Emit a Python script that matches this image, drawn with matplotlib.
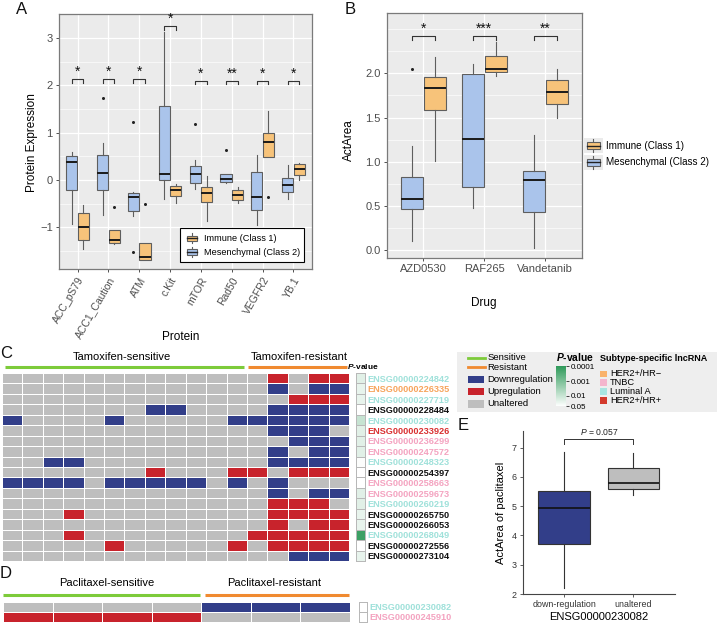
import numpy as np
import matplotlib
matplotlib.use("Agg")
import matplotlib.pyplot as plt
from matplotlib.colors import ListedColormap, LogNorm, LinearSegmentedColormap
from matplotlib.patches import Rectangle
from matplotlib.lines import Line2D
from matplotlib.legend_handler import HandlerBase
from matplotlib.ticker import MultipleLocator
import matplotlib.cm as cm

plt.rcParams['font.family'] = ['Liberation Sans', 'DejaVu Sans']
plt.rcParams['mathtext.fontset'] = 'custom'
plt.rcParams['mathtext.it'] = 'Liberation Sans:italic'
plt.rcParams['mathtext.rm'] = 'Liberation Sans'
plt.rcParams['mathtext.bf'] = 'Liberation Sans:italic:bold'

# ---------------- Panel A data (box statistics) ----------------
proteins = ['ACC_pS79', 'ACC1_Caution', 'ATM', 'c.Kit', 'mTOR', 'Rad50', 'VEGFR2', 'YB.1']
imm_whislo = [-1.45, -1.35, -1.68, -0.48, -0.87, -0.48, 0.49, 0.00]
imm_q1     = [-1.27, -1.32, -1.68, -0.34, -0.47, -0.42, 0.49, 0.11]
imm_med    = [-0.99, -1.26, -1.63, -0.21, -0.27, -0.32, 0.81, 0.23]
imm_q3     = [-0.70, -1.06, -1.32, -0.13, -0.15, -0.22, 0.99, 0.33]
imm_whishi = [-0.53, -1.06, -1.32, -0.08, 0.08, -0.14, 1.46, 0.37]
imm_fliers = [[], [-0.57], [-0.51], [], [], [], [-0.35], []]
mes_whislo = [-0.92, -0.73, -0.77, -0.39, -0.18, -0.07, -0.94, -0.39]
mes_q1     = [-0.20, -0.21, -0.65, 0.00, -0.06, -0.05, -0.64, -0.25]
mes_med    = [0.39, 0.15, -0.35, 0.13, 0.12, 0.02, -0.36, -0.10]
mes_q3     = [0.51, 0.52, -0.27, 1.56, 0.29, 0.12, 0.18, 0.04]
mes_whishi = [0.59, 0.78, -0.25, 3.12, 0.42, 0.13, 0.52, 0.32]
mes_fliers = [[], [1.73], [1.22, -1.52], [], [1.19], [0.64], [], []]
sigA = ['*', '*', '*', '*', '*', '**', '*', '*']
sigA_low = [2.05, 2.05, 2.05, 3.17, 2.02, 2.02, 2.02, 2.02]
sigA_top = [2.14, 2.14, 2.14, 3.26, 2.10, 2.10, 2.10, 2.10]

# ---------------- Panel B data ----------------
drugs = ['AZD0530', 'RAF265', 'Vandetanib']
immB_whislo = [1.01, 1.97, 1.50]
immB_q1     = [1.59, 2.01, 1.65]
immB_med    = [1.83, 2.05, 1.79]
immB_q3     = [1.96, 2.20, 1.92]
immB_whishi = [2.18, 2.35, 2.05]
immB_fliers = [[], [], []]
mesB_whislo = [0.10, 0.48, 0.03]
mesB_q1     = [0.47, 0.72, 0.43]
mesB_med    = [0.58, 1.26, 0.80]
mesB_q3     = [0.83, 1.99, 0.90]
mesB_whishi = [1.18, 2.10, 1.30]
mesB_fliers = [[2.05], [], []]
sigB = ['*', '***', '**']
sigB_low = [2.38, 2.38, 2.38]
sigB_top = [2.42, 2.42, 2.42]

# ---------------- Panel C data ----------------
C_genes = ['ENSG00000224842', 'ENSG00000226335', 'ENSG00000227719', 'ENSG00000228484',
           'ENSG00000230082', 'ENSG00000233926', 'ENSG00000236299', 'ENSG00000247572',
           'ENSG00000248323', 'ENSG00000254397', 'ENSG00000258663', 'ENSG00000259673',
           'ENSG00000260219', 'ENSG00000265750', 'ENSG00000266053', 'ENSG00000268049',
           'ENSG00000272556', 'ENSG00000273104']
C_subtype = ['LumA', 'HER2-', 'LumA', 'none', 'LumA', 'HER2+', 'TNBC', 'TNBC', 'LumA',
             'none', 'TNBC', 'TNBC', 'LumA', 'none', 'none', 'LumA', 'none', 'none']
# G = unaltered, B = downregulation, R = upregulation ; 12 sensitive + 5 resistant lines
C_status = ['GGGGGGGGGGGGGRGRR',
            'GGGGGGGGGGGGGBGBB',
            'GGGGGGGGGGGGGGRRR',
            'GGGGGGGBBGGGGBBBB',
            'BGGGGBGGGGGBBBBBB',
            'GGGGGGGGGGGGGBBBG',
            'GGGGGGGGGGGGGGBBB',
            'GGGGGGGGGGGGGBGBB',
            'GGBBGGGGGGGGGBBBB',
            'GGGGGGGRGGGRRGRRR',
            'BBBBGBBBBBGBGBGGG',
            'GGGGGGGGGGGGGBGBB',
            'GGGGGGGGGGGGGRRRG',
            'GGGRGGGGGGGGGRRRR',
            'GGGGGGGGGGGGGRGRR',
            'GGGRGGGGGGGGRRRRR',
            'GGGGGRGGGGGRGRRRR',
            'GGGGGGGGGGGGGGBBB']
C_pvalue = [0.02, 0.025, 0.025, 0.05, 0.009, 0.02, 0.02, 0.02, 0.045,
            0.05, 0.05, 0.02, 0.02, 0.025, 0.025, 0.00015, 0.05, 0.025]

# ---------------- Panel D data ----------------
D_genes = ['ENSG00000230082', 'ENSG00000245910']
D_subtype = ['LumA', 'TNBC']
D_status = ['GGGGBBB', 'RRRRGGG']
D_pvalue = [0.05, 0.05]

# ---------------- Panel E data ----------------
E_groups = ['down-regulation', 'unaltered']
E_whislo = [2.20, 5.40]
E_q1     = [3.72, 5.59]
E_med    = [4.93, 5.81]
E_q3     = [5.53, 6.31]
E_whishi = [6.86, 6.81]

# ---------------- styling ----------------
W, H = 719, 623
c_imm = '#F7C37A'
c_mes = '#AAC4EB'
box_edge = '#5E5E5E'
c_gray = '#BEBEBE'
c_blue = '#323E89'
c_red = '#C8232C'
c_green_line = '#7DCB3A'
c_orange_line = '#F08A30'
subtype_colors = {'LumA': '#9FE1DA', 'HER2-': '#F7A45C', 'TNBC': '#F4A3C0',
                  'HER2+': '#D93030', 'none': '#111111'}
pcmap = LinearSegmentedColormap.from_list('pv', ['#2F9A5A', '#FFFFFF'])
pnorm = LogNorm(vmin=1e-4, vmax=0.05)

fig = plt.figure(figsize=(W / 100, H / 100), dpi=100)


def rect(x0, y0, x1, y1):
    return [x0 / W, 1 - y1 / H, (x1 - x0) / W, (y1 - y0) / H]


overlay = fig.add_axes([0, 0, 1, 1])
overlay.set_xlim(0, W)
overlay.set_ylim(H, 0)
overlay.axis('off')


def make_stats(wl, q1, md, q3, wh, fl):
    return [dict(whislo=a, q1=b, med=c, q3=d, whishi=e, fliers=f)
            for a, b, c, d, e, f in zip(wl, q1, md, q3, wh, fl)]


def style_gg(ax, minor):
    ax.set_facecolor('#EBEBEB')
    for s in ax.spines.values():
        s.set_color('#7A7A7A')
        s.set_linewidth(0.9)
    ax.yaxis.set_minor_locator(MultipleLocator(minor))
    ax.grid(True, which='major', axis='both', color='white', lw=0.9)
    ax.grid(True, which='minor', axis='y', color='white', lw=0.45)
    ax.set_axisbelow(True)
    ax.tick_params(which='major', labelcolor='#4D4D4D', labelsize=8, length=2.5,
                   width=0.6, color='#333333', pad=2)
    ax.tick_params(which='minor', length=0)


def draw_boxes(ax, stats, positions, color, width):
    ax.bxp(stats, positions=positions, widths=width, patch_artist=True, showcaps=False,
           boxprops=dict(facecolor=color, edgecolor=box_edge, linewidth=0.8),
           medianprops=dict(color='#1A1A1A', linewidth=1.4),
           whiskerprops=dict(color=box_edge, linewidth=0.8),
           flierprops=dict(marker='o', markersize=2.2, markerfacecolor='#222222',
                           markeredgecolor='none'),
           manage_ticks=False)


class BoxKey(HandlerBase):
    def __init__(self, bg=None):
        super().__init__()
        self.bg = bg

    def create_artists(self, legend, orig_handle, xdescent, ydescent, width, height,
                       fontsize, trans):
        x0, y0 = -xdescent, -ydescent
        arts = []
        if self.bg:
            arts.append(Rectangle((x0, y0), width, height, facecolor=self.bg,
                                  edgecolor='none', transform=trans))
        cx = x0 + width / 2
        arts.append(Line2D([cx, cx], [y0 + height * 0.05, y0 + height * 0.95],
                           color=box_edge, lw=0.8, transform=trans))
        arts.append(Rectangle((x0 + width * 0.15, y0 + height * 0.25), width * 0.7,
                              height * 0.5, facecolor=orig_handle.get_facecolor(),
                              edgecolor=box_edge, lw=0.8, transform=trans))
        arts.append(Line2D([x0 + width * 0.15, x0 + width * 0.85], [y0 + height / 2] * 2,
                           color='#222222', lw=1.0, transform=trans))
        return arts


def brackets(ax, pos, low, top, sig, half, fs):
    for p, lo, tp, s in zip(pos, low, top, sig):
        ax.plot([p - half, p - half, p + half, p + half], [lo, tp, tp, lo],
                color='#333333', lw=0.8, clip_on=False)
        ax.text(p, tp, s, ha='center', va='bottom', fontsize=fs, color='#111111')


# ---------------- Panel A ----------------
axA = fig.add_axes(rect(59, 14, 312, 269))
style_gg(axA, 0.5)
posA = np.arange(1, len(proteins) + 1)
draw_boxes(axA, make_stats(mes_whislo, mes_q1, mes_med, mes_q3, mes_whishi, mes_fliers),
           posA - 0.1875, c_mes, 0.36)
draw_boxes(axA, make_stats(imm_whislo, imm_q1, imm_med, imm_q3, imm_whishi, imm_fliers),
           posA + 0.1875, c_imm, 0.36)
brackets(axA, posA, sigA_low, sigA_top, sigA, 0.19, 10)
axA.set_xlim(0.4, len(proteins) + 0.6)
axA.set_ylim(-1.88, 3.51)
axA.set_yticks([-1, 0, 1, 2, 3])
axA.set_xticks(posA)
axA.set_xticklabels(proteins, rotation=60, ha='right', va='top', rotation_mode='anchor',
                    fontsize=7.5)
axA.set_ylabel('Protein Expression', fontsize=8.5)
axA.yaxis.set_label_coords(-0.083, 0.494)
axA.set_xlabel('Protein', fontsize=8.5)
axA.xaxis.set_label_coords(0.48, -0.243)
hA = [Rectangle((0, 0), 1, 1, facecolor=c_imm), Rectangle((0, 0), 1, 1, facecolor=c_mes)]
legA = axA.legend(hA, ['Immune (Class 1)', 'Mesenchymal (Class 2)'], loc='lower right',
                  bbox_to_anchor=(309 / W, 1 - 267 / H), bbox_transform=fig.transFigure,
                  handler_map={Rectangle: BoxKey()}, fontsize=6.6, frameon=True,
                  fancybox=False, edgecolor='black', framealpha=1, borderpad=0.5,
                  handlelength=1.6, handleheight=1.5, labelspacing=0.3, handletextpad=0.5)
legA.get_frame().set_linewidth(0.8)

# ---------------- Panel B ----------------
axB = fig.add_axes(rect(386.7, 12.7, 581.7, 258))
style_gg(axB, 0.25)
posB = np.arange(1, len(drugs) + 1)
draw_boxes(axB, make_stats(mesB_whislo, mesB_q1, mesB_med, mesB_q3, mesB_whishi, mesB_fliers),
           posB - 0.1875, c_mes, 0.36)
draw_boxes(axB, make_stats(immB_whislo, immB_q1, immB_med, immB_q3, immB_whishi, immB_fliers),
           posB + 0.1875, c_imm, 0.36)
brackets(axB, posB, sigB_low, sigB_top, sigB, 0.19, 10)
axB.set_xlim(0.4, len(drugs) + 0.6)
axB.set_ylim(-0.087, 2.685)
axB.set_yticks([0.0, 0.5, 1.0, 1.5, 2.0])
axB.set_yticklabels(['0.0', '0.5', '1.0', '1.5', '2.0'])
axB.set_xticks(posB)
axB.set_xticklabels(drugs, fontsize=8)
axB.set_ylabel('ActArea', fontsize=8.5)
axB.yaxis.set_label_coords(-0.163, 0.48)
axB.set_xlabel('Drug', fontsize=8.5)
axB.xaxis.set_label_coords(0.5, -0.159)
hB = [Rectangle((0, 0), 1, 1, facecolor=c_imm), Rectangle((0, 0), 1, 1, facecolor=c_mes)]
axB.legend(hB, ['Immune (Class 1)', 'Mesenchymal (Class 2)'], loc='center left',
           bbox_to_anchor=(584 / W, 1 - 154 / H), bbox_transform=fig.transFigure,
           handler_map={Rectangle: BoxKey(bg='#EBEBEB')}, fontsize=7.1, frameon=False,
           handlelength=1.9, handleheight=1.9, labelspacing=0.2, handletextpad=0.35,
           borderpad=0.0, borderaxespad=0.0)


# ---------------- Heatmaps C & D ----------------
def heat(status, pvals, genes, subtypes, hrect, prect):
    codes = np.array([['GBR'.index(ch) for ch in row] for row in status])
    ax = fig.add_axes(rect(*hrect))
    ax.pcolormesh(codes, cmap=ListedColormap([c_gray, c_blue, c_red]), vmin=-0.5, vmax=2.5,
                  edgecolors='white', linewidth=0.7)
    ax.set_xlim(0, codes.shape[1])
    ax.set_ylim(codes.shape[0], 0)
    ax.axis('off')
    axp = fig.add_axes(rect(*prect))
    mesh = axp.pcolormesh(np.array(pvals)[:, None], cmap=pcmap, norm=pnorm,
                          edgecolors='#B8B8B8', linewidth=0.5)
    mesh.set_clip_on(False)
    axp.set_ylim(len(pvals), 0)
    axp.set_xlim(0, 1)
    axp.set_xticks([])
    axp.set_yticks(np.arange(len(genes)) + 0.5)
    axp.set_yticklabels(genes, fontsize=6.6, fontweight='bold')
    axp.yaxis.tick_right()
    axp.tick_params(axis='y', length=0, pad=1.5)
    for lbl, st in zip(axp.get_yticklabels(), subtypes):
        lbl.set_color(subtype_colors[st])
    for s in axp.spines.values():
        s.set_visible(False)
    axp.patch.set_visible(False)
    return ax, axp


heat(C_status, C_pvalue, C_genes, C_subtype, (2, 373, 349, 561), (355.7, 373, 365, 561))
heat(D_status, D_pvalue, D_genes, D_subtype, (3, 602, 350, 621.5), (358.6, 602, 367, 621.5))

# annotations (overlay, pixel coordinates)
ov = overlay
for letter, x, y in [('A', 22, 9), ('B', 350, 9), ('C', 6, 353), ('D', 6, 573), ('E', 463, 426)]:
    ov.text(x, y, letter, fontsize=12, ha='center', va='center', color='#111111')
ov.text(121.7, 357.3, 'Tamoxifen-sensitive', fontsize=8, ha='center', va='center')
ov.text(299, 357.3, 'Tamoxifen-resistant', fontsize=8, ha='center', va='center')
ov.plot([5, 244], [367, 367], color=c_green_line, lw=2.2, solid_capstyle='butt')
ov.plot([248, 347], [367, 367], color=c_orange_line, lw=2.2, solid_capstyle='butt')
ov.text(347.3, 366.5, r'$\mathbf{P}$-value', fontsize=6, fontweight='bold', ha='left',
        va='center')
ov.text(107, 583.4, 'Paclitaxel-sensitive', fontsize=8, ha='center', va='center')
ov.text(274.5, 583.4, 'Paclitaxel-resistant', fontsize=8, ha='center', va='center')
ov.plot([3, 200], [594.5, 594.5], color=c_green_line, lw=2.2, solid_capstyle='butt')
ov.plot([204.5, 349], [594.5, 594.5], color=c_orange_line, lw=2.2, solid_capstyle='butt')

# legend box for C
ov.add_patch(Rectangle((457, 351.7), 260, 60, facecolor='#EEEEEE', edgecolor='none'))
ov.plot([468, 485], [358, 358], color=c_green_line, lw=2)
ov.plot([468, 485], [367.3, 367.3], color=c_orange_line, lw=2)
ov.text(487.7, 358, 'Sensitive', fontsize=6.8, va='center')
ov.text(487.7, 367.3, 'Resistant', fontsize=6.8, va='center')
for yc, col, lab in [(379.6, c_blue, 'Downregulation'), (391.6, c_red, 'Upregulation'),
                     (404.0, c_gray, 'Unaltered')]:
    ov.add_patch(Rectangle((467.7, yc - 3.7), 16.6, 7.4, facecolor=col, edgecolor='none'))
    ov.text(487.7, yc, lab, fontsize=6.8, va='center')
ov.text(556.5, 357.3, r'$\mathbf{P}$-value', fontsize=7.4, fontweight='bold', va='center')
ov.text(600, 358.3, 'Subtype-specific lncRNA', fontsize=6.5, fontweight='bold', va='center')
for yc, key, lab in [(374, 'HER2-', 'HER2+/HR\u2212'), (382.6, 'TNBC', 'TNBC'),
                     (391.4, 'LumA', 'Luminal A'), (400.3, 'HER2+', 'HER2+/HR+')]:
    colsq = {'HER2-': '#F9B26B', 'TNBC': '#F4B5CD', 'LumA': '#A8E4E0', 'HER2+': '#D33A2C'}[key]
    ov.add_patch(Rectangle((600, yc - 3.4), 6.8, 6.8, facecolor=colsq, edgecolor='none'))
    ov.text(610, yc, lab, fontsize=6.7, va='center')

cax = fig.add_axes(rect(556, 366.3, 566, 406.3))
sm = cm.ScalarMappable(norm=pnorm, cmap=pcmap)
cb = fig.colorbar(sm, cax=cax)
cb.set_ticks([1e-4, 1e-3, 1e-2, 0.05])
cb.set_ticklabels(['0.0001', '0.001', '0.01', '0.05'])
cb.minorticks_off()
cax.invert_yaxis()
cb.outline.set_visible(False)
cax.tick_params(labelsize=5.8, length=2.2, width=0.5, pad=1)

# ---------------- Panel E ----------------
axE = fig.add_axes(rect(522.7, 431, 675, 594))
posE = np.arange(1, len(E_groups) + 1)
bpE = axE.bxp(make_stats(E_whislo, E_q1, E_med, E_q3, E_whishi, [[], []]), positions=posE,
              widths=0.75, patch_artist=True, showcaps=False,
              boxprops=dict(edgecolor='#333333', linewidth=0.8),
              medianprops=dict(color='#111111', linewidth=1.2),
              whiskerprops=dict(color='#333333', linewidth=0.8), manage_ticks=False)
for b, col in zip(bpE['boxes'], [c_blue, c_gray]):
    b.set_facecolor(col)
axE.set_xlim(0.4, 2.6)
axE.set_ylim(2.0, 7.57)
axE.set_yticks([2, 3, 4, 5, 6, 7])
axE.set_xticks(posE)
axE.set_xticklabels(E_groups)
axE.spines['top'].set_visible(False)
axE.spines['right'].set_visible(False)
for s in ['left', 'bottom']:
    axE.spines[s].set_color('#444444')
    axE.spines[s].set_linewidth(0.8)
axE.tick_params(labelsize=6.4, labelcolor='#333333', length=2.5, width=0.6, color='#444444',
                pad=2)
axE.plot([1, 1, 2, 2], [7.13, 7.3, 7.3, 7.13], color='#333333', lw=0.7, clip_on=False)
axE.text(1.5, 7.36, r'$P$ = 0.057', ha='center', va='bottom', fontsize=6.2, color='#222222')
axE.set_ylabel('ActArea of paclitaxel', fontsize=8)
axE.set_xlabel('ENSG00000230082', fontsize=8, labelpad=2)

fig.savefig('out.png', dpi=100)
